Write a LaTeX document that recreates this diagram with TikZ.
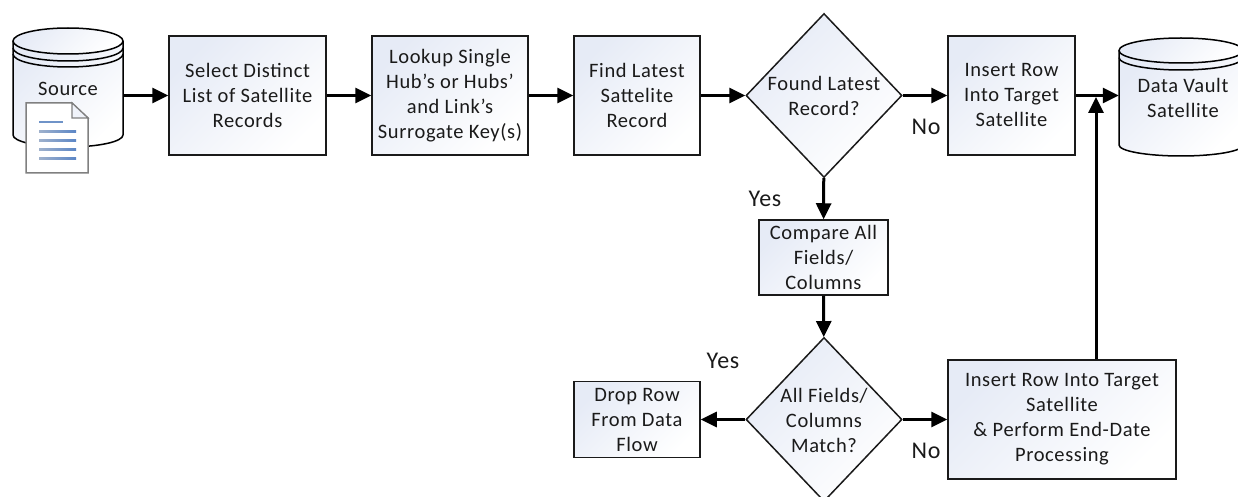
\documentclass[tikz,border=0pt]{standalone}
\usepackage{fontspec}
\setmainfont[LetterSpace=3]{Carlito}
\usetikzlibrary{arrows.meta,shapes.geometric}
\definecolor{shadeblue}{HTML}{E6EBF6}
\definecolor{inkc}{HTML}{1A1A1A}
\definecolor{docA}{HTML}{9FB1CC}
\definecolor{docB}{HTML}{5B86C6}
\tikzset{
  x=1pt,y=-1pt,
  gradfill/.style={top color=shadeblue,bottom color=white,shading=axis,shading angle=45},
  pbox/.style={draw=inkc,line width=1.5pt,gradfill,inner sep=0pt,align=center,font=\fontsize{20.5}{25}\selectfont,text=inkc},
  dec/.style={diamond,draw=inkc,line width=1.5pt,gradfill,inner sep=0pt,aspect=0.95,minimum width=156pt,minimum height=164pt},
  txt/.style={inner sep=0pt,align=center,font=\fontsize{20.5}{25}\selectfont,text=inkc},
  lbl/.style={inner sep=0pt,font=\fontsize{24}{26}\selectfont,text=inkc},
  flow/.style={line width=3pt,-{Triangle[length=16pt,width=15pt]},black},
  cyl/.style={draw=black,line width=1.5pt},
}
\begin{document}
\begin{tikzpicture}
\useasboundingbox (0,0) rectangle (1238,497);
\clip (0,0) rectangle (1238,497);
% source cylinder
\path[gradfill] (13,41) -- (13,135) arc[x radius=55,y radius=12,start angle=180,end angle=0] -- (123,41) -- cycle;
\draw[cyl] (13,41) -- (13,135) arc[x radius=55,y radius=12,start angle=180,end angle=0] -- (123,41);
\path[gradfill] (68,41) ellipse[x radius=55,y radius=13];
\draw[cyl] (68,41) ellipse[x radius=55,y radius=13];
\draw[cyl] (13,48) arc[x radius=55,y radius=13,start angle=180,end angle=0];
\draw[cyl] (13,54) arc[x radius=55,y radius=13,start angle=180,end angle=0];
\node[minimum width=110pt,minimum height=119pt,inner sep=0pt] (source) at (68,87.5) {};
\node[txt] (sourcetxt) at (68,89) {Source};
% document icon
\path[draw=gray,line width=1.5pt,fill=white] (26,103) -- (72,103) -- (88,118) -- (88,173) -- (26,173) -- cycle;
\path[draw=gray,line width=1.2pt,fill=shadeblue!60!white] (72,103) -- (72,118) -- (88,118) -- cycle;
\fill[docB!70!docA] (39,121) rectangle (63,123);
\foreach \yy in {131,140,149,158}{\shade[left color=docA,right color=docB] (39,\yy) rectangle (76,\yy+2);}
% target cylinder
\path[gradfill] (1119,51) -- (1119,145) arc[x radius=62,y radius=11,start angle=180,end angle=0] -- (1243,51) -- cycle;
\draw[cyl] (1119,51) -- (1119,145) arc[x radius=62,y radius=11,start angle=180,end angle=0] -- (1243,51);
\path[gradfill] (1181,50.5) ellipse[x radius=62,y radius=12.5];
\draw[cyl] (1181,50.5) ellipse[x radius=62,y radius=12.5];
\draw[cyl] (1119,57.5) arc[x radius=62,y radius=12.5,start angle=180,end angle=0];
\node[minimum width=124pt,minimum height=118pt,inner sep=0pt] (vault) at (1181,97) {};
\node[txt] (vaulttxt) at (1183,98) {Data Vault\\Satellite};
% process boxes
\node[pbox,minimum width=157pt,minimum height=119pt] (select) at (247.5,95.5) {Select Distinct\\List of Satellite\\Records};
\node[pbox,minimum width=156pt,minimum height=119pt] (lookup) at (450,95.5) {Lookup Single\\Hub’s or Hubs’\\and Link’s\\Surrogate Key(s)};
\node[pbox,minimum width=126pt,minimum height=119pt] (find) at (637,95.5) {Find Latest\\Sattelite\\Record};
\node[dec] (found) at (824,95.5) {};
\node[txt] (foundtxt) at (824,95.5) {Found Latest\\Record?};
\node[pbox,minimum width=127pt,minimum height=119pt] (insert) at (1011.5,95.5) {Insert Row\\Into Target\\Satellite};
\node[pbox,minimum width=129pt,minimum height=75pt] (compare) at (823.5,257.5) {Compare All\\Fields/\\Columns};
\node[dec] (match) at (824,419.5) {};
\node[txt] (matchtxt) at (824,420) {All Fields/\\Columns\\Match?};
\node[pbox,minimum width=126pt,minimum height=76pt] (drop) at (637,419.5) {Drop Row\\From Data\\Flow};
\node[pbox,minimum width=228pt,minimum height=119pt] (insertb) at (1062,419.5) {Insert Row Into Target\\Satellite\\\& Perform End-Date\\Processing};
% labels
\node[lbl] (nolbla) at (926,127) {No};
\node[lbl] (yeslbla) at (765,199) {Yes};
\node[lbl] (yeslblb) at (723,361) {Yes};
\node[lbl] (nolblb) at (926,451) {No};
% connectors
\draw[flow] (source.east |- select.west) -- (select.west);
\draw[flow] (select) -- (lookup);
\draw[flow] (lookup) -- (find);
\draw[flow] (find) -- (found);
\draw[flow] (found) -- (insert);
\draw[flow] (insert.east) -- (vault.west |- insert.east);
\draw[flow] (found) -- (compare);
\draw[flow] (compare) -- (match);
\draw[flow] (match) -- (drop);
\draw[flow] (match) -- (insertb);
\coordinate (joint) at (1096,97);
\draw[flow] (insertb.north -| joint) -- (joint);
\end{tikzpicture}
\end{document}
